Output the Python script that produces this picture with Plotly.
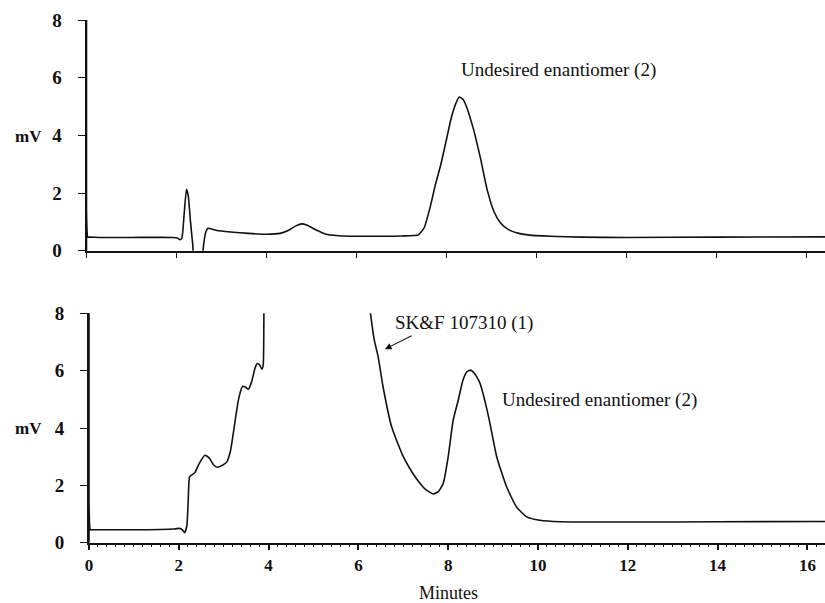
import plotly.graph_objects as go

# ---- data ----
top_t = [0.0, 0.0, 0.03, 0.06, 0.3, 1.0, 1.9, 2.02, 2.08, 2.12, 2.17, 2.22, 2.26, 2.31, 2.36, 2.40,
         2.55, 2.60, 2.64, 2.70, 2.78, 2.90, 3.20, 3.60, 4.00, 4.30, 4.50, 4.65, 4.78,
         4.90, 5.10, 5.30, 5.60, 6.00, 6.50, 7.00, 7.37, 7.50, 7.63, 7.75, 7.87, 8.00,
         8.10, 8.20, 8.28, 8.36, 8.45, 8.55, 8.63, 8.75, 8.90, 9.05, 9.20, 9.37, 9.60,
         9.90, 10.3, 11.0, 12.0, 14.0, 16.5]
top_mv = [0.0, 9.0, 0.47, 0.47, 0.46, 0.46, 0.46, 0.44, 0.38, 0.45, 1.30, 2.13, 1.90, 1.00, 0.20, -0.40,
          -0.40, 0.20, 0.60, 0.78, 0.75, 0.70, 0.65, 0.60, 0.57, 0.60, 0.72, 0.86, 0.93,
          0.88, 0.72, 0.58, 0.52, 0.50, 0.50, 0.51, 0.55, 0.80, 1.50, 2.30, 3.00, 3.90,
          4.60, 5.10, 5.33, 5.25, 4.95, 4.45, 4.00, 3.20, 2.10, 1.35, 0.95, 0.73, 0.60,
          0.53, 0.50, 0.47, 0.46, 0.47, 0.48]

bot_t = [0.0, 0.0, 0.03, 0.06, 0.3, 1.0, 1.9, 2.02, 2.08, 2.13, 2.18, 2.21, 2.24, 2.30, 2.36, 2.45,
         2.58, 2.68, 2.78, 2.86, 2.97, 3.07, 3.15, 3.25, 3.33, 3.42, 3.48, 3.55, 3.62,
         3.70, 3.75, 3.80, 3.85, 3.88, 3.90, 4.10, 6.00, 6.20, 6.27, 6.35, 6.44, 6.55,
         6.74, 7.00, 7.20, 7.37, 7.50, 7.67, 7.78, 7.89, 8.00, 8.11, 8.22, 8.33, 8.41,
         8.49, 8.56, 8.63, 8.71, 8.90, 9.08, 9.30, 9.52, 9.75, 10.04, 10.5, 12.0, 14.0, 16.5]
bot_mv = [0.0, 9.0, 0.45, 0.45, 0.45, 0.45, 0.48, 0.50, 0.45, 0.35, 0.60, 1.50, 2.30, 2.37, 2.45, 2.75,
          3.05, 2.95, 2.70, 2.63, 2.70, 2.82, 3.20, 4.20, 5.00, 5.45, 5.43, 5.35, 5.60,
          6.10, 6.25, 6.20, 6.05, 6.20, 9.00, 20.0, 20.0, 9.00, 8.00, 7.10, 6.48, 5.43,
          4.04, 3.00, 2.45, 2.07, 1.85, 1.70, 1.78, 2.07, 3.00, 4.27, 4.95, 5.67, 5.95,
          6.02, 5.95, 5.80, 5.55, 4.39, 3.00, 1.95, 1.25, 0.90, 0.78, 0.73, 0.72, 0.73, 0.74]

y_ticks = [0, 2, 4, 6, 8]
x_ticks = [0, 2, 4, 6, 8, 10, 12, 14, 16]

W, H = 825, 603
SERIF = "Liberation Serif, Times New Roman, serif"
INK = "#111111"

fig = go.Figure()
fig.add_trace(go.Scatter(x=top_t, y=top_mv, mode="lines", xaxis="x2", yaxis="y2",
                         line=dict(color=INK, width=1.6, shape="spline", smoothing=0.5),
                         hoverinfo="skip"))
fig.add_trace(go.Scatter(x=bot_t, y=bot_mv, mode="lines", xaxis="x", yaxis="y",
                         line=dict(color=INK, width=1.6, shape="spline", smoothing=0.5),
                         hoverinfo="skip"))

tickfont_y = dict(family=SERIF, size=19, color=INK, weight="bold")
tickfont_x = dict(family=SERIF, size=17, color=INK, weight="bold")

common_y = dict(range=[0, 8], tickvals=y_ticks, ticks="outside", ticklen=7,
                tickcolor=INK, tickwidth=1.2, showline=True, linecolor=INK, linewidth=1.8,
                showgrid=False, zeroline=False, tickfont=tickfont_y, ticklabelstandoff=12,
                automargin=False)

fig.update_layout(
    width=W, height=H, margin=dict(l=0, r=0, t=0, b=0, pad=0), autosize=False,
    paper_bgcolor="white", plot_bgcolor="white", showlegend=False,
    xaxis=dict(domain=[89 / W, 1], range=[0, (W - 89) / 44.9], anchor="y",
               tickvals=x_ticks, ticks="outside", ticklen=6, tickwidth=1.5, tickcolor=INK,
               showline=True, linecolor=INK, linewidth=1.5, showgrid=False, zeroline=False,
               tickfont=tickfont_x, ticklabelstandoff=0, automargin=False,
               minor=dict(dtick=0.2, ticks="outside", ticklen=3, tickwidth=1.2,
                          tickcolor=INK, showgrid=False)),
    yaxis=dict(domain=[1 - 542.7 / H, 1 - 313.3 / H], anchor="x", **common_y),
    xaxis2=dict(domain=[86.5 / W, 1], range=[0, (W - 86.5) / 45.03], anchor="y2",
                tickvals=x_ticks, ticks="outside", ticklen=6, tickwidth=1.2, tickcolor=INK,
                showline=True, linecolor=INK, linewidth=1.5, showgrid=False, zeroline=False,
                showticklabels=False, automargin=False),
    yaxis2=dict(domain=[1 - 250.7 / H, 1 - 20 / H], anchor="x2", **common_y),
)

ann_font = dict(family=SERIF, size=19, color=INK)
fig.add_annotation(x=8.27, y=6.27, xref="x2", yref="y2", text="Undesired enantiomer (2)",
                   showarrow=False, xanchor="left", yanchor="middle", font=ann_font)
fig.add_annotation(x=9.15, y=4.98, xref="x", yref="y", text="Undesired enantiomer (2)",
                   showarrow=False, xanchor="left", yanchor="middle", font=ann_font)
fig.add_annotation(x=6.77, y=7.66, xref="x", yref="y", text="SK&amp;F 107310 (1)",
                   showarrow=False, xanchor="left", yanchor="middle", font=ann_font)
fig.add_annotation(x=6.59, y=6.75, ax=7.22, ay=7.24, xref="x", yref="y", axref="x", ayref="y",
                   text="", showarrow=True, arrowhead=2, arrowsize=1.2, arrowwidth=1.1,
                   arrowcolor=INK)

lab_font = dict(family=SERIF, size=17, color=INK, weight="bold")
fig.add_annotation(x=28 / W, y=1 - 136.7 / H, xref="paper", yref="paper", text="mV",
                   showarrow=False, xanchor="center", yanchor="middle", font=lab_font)
fig.add_annotation(x=28 / W, y=1 - 428.3 / H, xref="paper", yref="paper", text="mV",
                   showarrow=False, xanchor="center", yanchor="middle", font=lab_font)
fig.add_annotation(x=448 / W, y=1 - 593 / H, xref="paper", yref="paper", text="Minutes",
                   showarrow=False, xanchor="center", yanchor="middle",
                   font=dict(family=SERIF, size=18, color=INK))

fig.write_html("out.html")
